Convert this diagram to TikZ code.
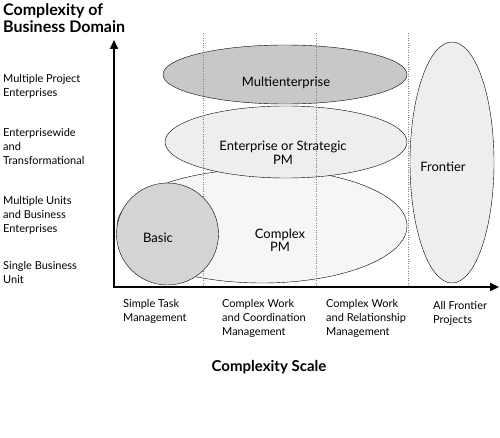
\documentclass[tikz,border=0pt]{standalone}
\usepackage{fontspec}
\setmainfont{Lato}
\usetikzlibrary{arrows.meta}
\definecolor{darkfill}{RGB}{200,200,200}
\definecolor{basicfill}{RGB}{212,212,212}
\definecolor{lightfill}{RGB}{238,238,238}
\definecolor{palefill}{RGB}{246,246,246}
\tikzset{
  sidelab/.style={align=left, anchor=north west, inner sep=0pt, font=\fontsize{11}{14}\selectfont},
  scalelab/.style={align=left, anchor=north west, inner sep=0pt, font=\fontsize{11}{14}\selectfont},
  boldlab/.style={align=left, inner sep=0pt, font=\bfseries\fontsize{15}{17}\selectfont},
  inlab/.style={align=center, inner sep=0pt, font=\fontsize{13}{13.5}\selectfont},
  blob/.style={draw=black, thin}
}
\begin{document}
\begin{tikzpicture}[x=1pt,y=-1pt]
\useasboundingbox (0,0) rectangle (500,438);
% the domains
\filldraw [blob, fill=palefill] (262,226) ellipse (145 and 57);
\filldraw [blob, fill=lightfill] (286,142) ellipse (121 and 36);
\filldraw [blob, fill=darkfill] (285,74.5) ellipse (122 and 29.5);
\filldraw [blob, fill=lightfill] (452,162.5) ellipse (42 and 120.5);
% scale borders
\foreach \xs in {203,316,408}
  \draw [gray, dotted] (\xs,33) -- (\xs,287);
\filldraw [blob, fill=basicfill] (167.5,234) circle (51);
% axes
\coordinate (o) at (114,287);
\coordinate (ytop) at (114,40);
\coordinate (xend) at (499,287);
\draw [line width=2pt, {Triangle[length=9pt,width=8pt]}-{Triangle[length=9pt,width=8pt]}] (ytop) -- (o) -- (xend);
% texts in the domains
\node [inlab] (multi) at (286,83) {Multienterprise};
\node [inlab] (strat) at (283,153) {Enterprise or Strategic\\PM};
\node [inlab] (cpm) at (280,240) {Complex\\PM};
\node [inlab] (front) at (443,167) {Frontier};
\node [inlab] (basic) at (158,238) {Basic};
% titles
\node [boldlab, anchor=north west, font=\bfseries\fontsize{16}{17.5}\selectfont] (ytitle) at (3,3) {Complexity of\\Business Domain};
\node [boldlab] (xtitle) at (269,367) {Complexity Scale};
% domain levels
\node [sidelab] (lvlfour) at (3,74) {Multiple Project\\Enterprises};
\node [sidelab] (lvlthree) at (3,128) {Enterprisewide\\and\\Transformational};
\node [sidelab] (lvltwo) at (3,196) {Multiple Units\\and Business\\Enterprises};
\node [sidelab] (lvlone) at (3,261) {Single Business\\Unit};
% scale levels
\node [scalelab] (sone) at (123,299) {Simple Task\\Management};
\node [scalelab] (stwo) at (222,299) {Complex Work\\and Coordination\\Management};
\node [scalelab] (sthree) at (326,299) {Complex Work\\and Relationship\\Management};
\node [scalelab] (sfour) at (433,301) {All Frontier\\Projects};
\end{tikzpicture}
\end{document}
